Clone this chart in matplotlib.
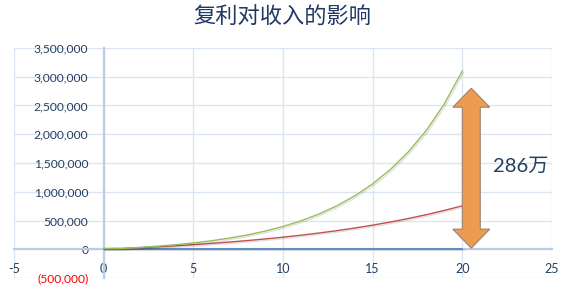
import matplotlib
matplotlib.use('Agg')
import matplotlib.pyplot as plt
from matplotlib.patches import Polygon
import matplotlib.patheffects as pe

plt.rcParams['font.family'] = ['Lato', 'Noto Sans CJK SC', 'DejaVu Sans']

# 年份
years = list(range(0, 21))
# 每年存入 12000, 按不同收益率复利累计
no_interest = [12000] * 21
rate_10 = [12000, 13200, 27720, 43692, 61261, 80587, 101846, 125231, 150954,
           179249, 210374, 244611, 282273, 323700, 369270, 419397, 474536,
           535190, 601909, 675300, 756030]
rate_21 = [12000, 14520, 32089, 53348, 79071, 110196, 147857, 193427, 248567,
           315286, 396016, 493699, 611896, 754914, 927966, 1137359, 1390724,
           1697296, 2068248, 2530000, 3100000]

x_ticks = [-5, 0, 5, 10, 15, 20, 25]
y_ticks = [-500000, 0, 500000, 1000000, 1500000, 2000000, 2500000, 3000000, 3500000]
y_tick_labels = ['(500,000)', '0', '500,000', '1,000,000', '1,500,000',
                 '2,000,000', '2,500,000', '3,000,000', '3,500,000']

title = '复利对收入的影响'
gap_label = '286万'

text_color = '#243F60'
grid_color = '#DCE6F2'

fig = plt.figure(figsize=(5.72, 2.98), dpi=100)
ax = fig.add_axes([0.0245, 0.067, 0.9405, 0.772])

shadow = [pe.SimpleLineShadow(offset=(1, -1), alpha=0.12), pe.Normal()]
ax.plot(years, no_interest, color='#4F81BD', lw=1.2, path_effects=shadow, zorder=3)
ax.plot(years, rate_10, color='#C0504D', lw=1.0, path_effects=shadow, zorder=3)
ax.plot(years, rate_21, color='#9BBB59', lw=1.0, path_effects=shadow, zorder=3)

ax.set_xlim(-5, 25)
ax.set_ylim(-500000, 3500000)
ax.set_xticks(x_ticks)
ax.set_xticklabels([str(v) for v in x_ticks])
ax.set_yticks(y_ticks)
ax.set_yticklabels(y_tick_labels)
ax.grid(True, color=grid_color, lw=1.0, zorder=0)
for ln in ax.get_xgridlines() + ax.get_ygridlines():
    ln.set_clip_on(False)

for s in ['top', 'right']:
    ax.spines[s].set_visible(False)
ax.spines['left'].set_position(('data', 0))
ax.spines['bottom'].set_position(('data', 0))
ax.spines['left'].set_color('#B9CDE5')
ax.spines['bottom'].set_color('#B9CDE5')
ax.spines['left'].set_linewidth(1.6)
ax.spines['bottom'].set_linewidth(1.6)

ax.tick_params(axis='x', length=0, pad=10, labelsize=9, labelcolor=text_color)
ax.tick_params(axis='y', length=0, pad=11, labelsize=8.7, labelcolor=text_color)
ax.get_yticklabels()[0].set_color('#FF0000')

# 双向箭头
cx, y_bot, y_top = 20.5, 20000, 2800000
sw, hw, hl = 0.5, 1.03, 330000
verts = [(cx, y_top), (cx + hw, y_top - hl), (cx + sw, y_top - hl),
         (cx + sw, y_bot + hl), (cx + hw, y_bot + hl), (cx, y_bot),
         (cx - hw, y_bot + hl), (cx - sw, y_bot + hl), (cx - sw, y_top - hl),
         (cx - hw, y_top - hl)]
ax.add_patch(Polygon(verts, closed=True, facecolor='#EE9B52', edgecolor='#9C8270',
                     lw=0.8, zorder=5, clip_on=False))
ax.text(21.7, 1450000, gap_label, fontsize=14.5, color=text_color, va='center', ha='left',
        family=['Lato', 'Noto Sans CJK SC'])

fig.text(0.493, 0.943, title, fontsize=16, color='#1F3864', ha='center', va='center',
         family=['Noto Sans CJK SC'])

fig.savefig('out.png', dpi=100, facecolor='white')
